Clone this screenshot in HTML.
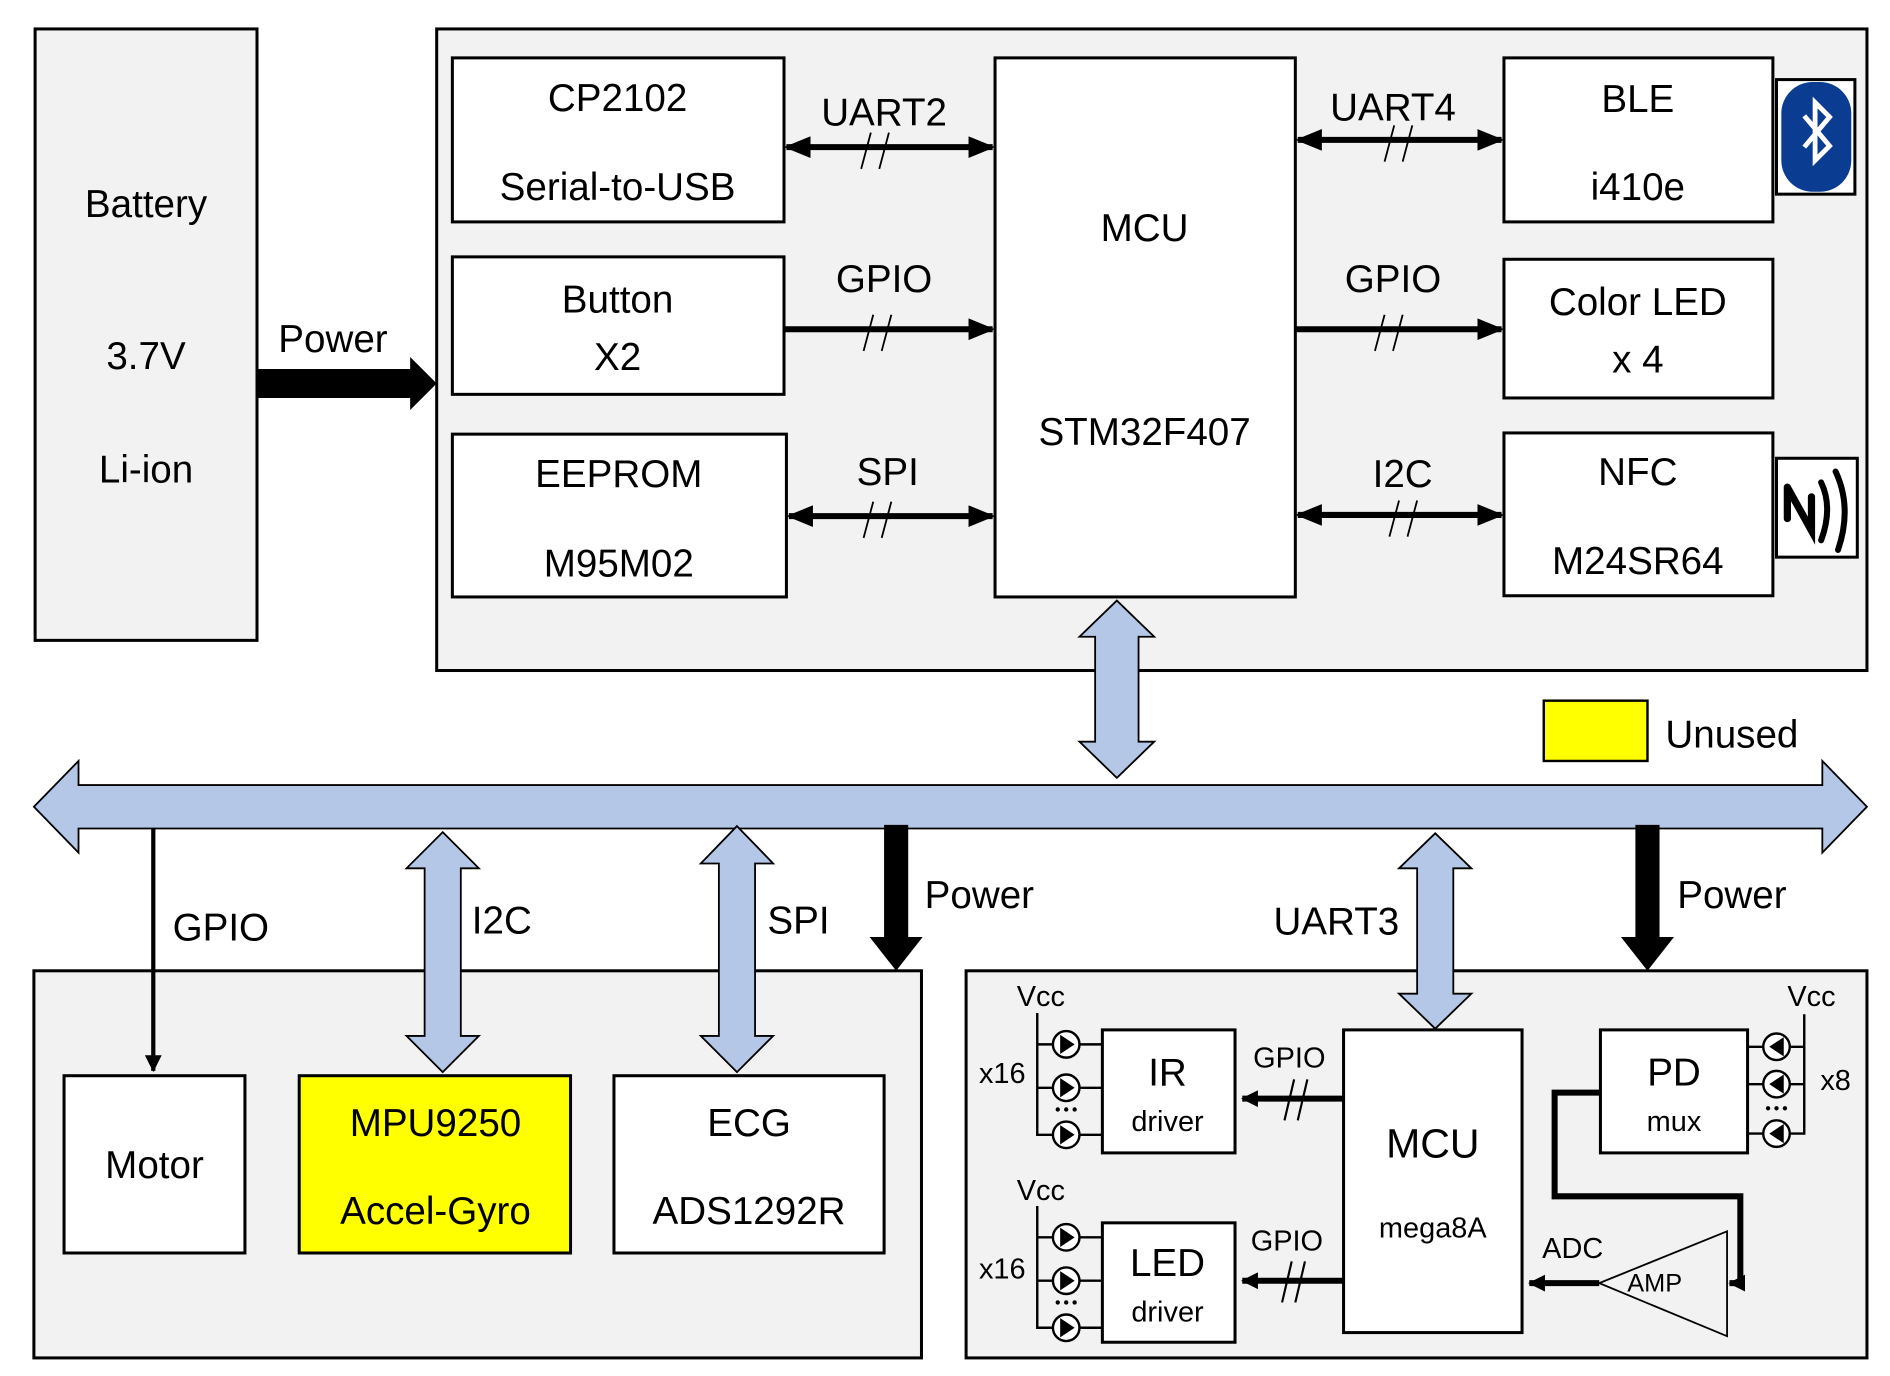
<!DOCTYPE html>
<html><head><meta charset="utf-8"><style>
html,body{margin:0;padding:0;background:#fff;}
svg{display:block;}
text{font-family:"Liberation Sans",sans-serif;fill:#000;text-anchor:middle;}
</style></head><body>
<svg width="1890" height="1376" viewBox="0 0 1567 1141" xmlns="http://www.w3.org/2000/svg">
<defs>
<marker id="ah" markerUnits="userSpaceOnUse" markerWidth="22" markerHeight="18" refX="20" refY="9" orient="auto-start-reverse"><path d="M0,0 L22,9 L0,18 Z" fill="#000"/></marker>
<marker id="as" markerUnits="userSpaceOnUse" markerWidth="14" markerHeight="14" refX="13" refY="7" orient="auto-start-reverse"><path d="M0,0 L14,7 L0,14 Z" fill="#000"/></marker>
</defs>

<rect x="29" y="24" width="184" height="507" fill="#f2f2f2" stroke="#000" stroke-width="2.5"/>
<text x="121" y="180" font-size="32">Battery</text>
<text x="121" y="306" font-size="32">3.7V</text>
<text x="121" y="400" font-size="32">Li-ion</text>
<polygon points="213,306 340,306 340,296 362,318 340,340 340,330 213,330" fill="#000"/>
<text x="276" y="292" font-size="32">Power</text>

<rect x="362" y="24" width="1186" height="532" fill="#f2f2f2" stroke="#000" stroke-width="2.5"/>
<g fill="#fff" stroke="#000" stroke-width="2.5">
<rect x="375" y="48" width="275" height="136"/>
<rect x="375" y="213" width="275" height="114"/>
<rect x="375" y="360" width="277" height="135"/>
<rect x="825" y="48" width="249" height="447"/>
<rect x="1247" y="48" width="223" height="136"/>
<rect x="1247" y="215" width="223" height="115"/>
<rect x="1247" y="359" width="223" height="135"/>
<rect x="1473" y="66" width="65" height="95"/>
<rect x="1473" y="380" width="67" height="82"/>
</g>
<g font-size="32">
<text x="512" y="92">CP2102</text>
<text x="512" y="166">Serial-to-USB</text>
<text x="512" y="259">Button</text>
<text x="512" y="307">X2</text>
<text x="513" y="404">EEPROM</text>
<text x="513" y="478">M95M02</text>
<text x="949" y="200">MCU</text>
<text x="949" y="369">STM32F407</text>
<text x="1358" y="93">BLE</text>
<text x="1358" y="166">i410e</text>
<text x="1358" y="261">Color LED</text>
<text x="1358" y="309">x 4</text>
<text x="1358" y="402">NFC</text>
<text x="1358" y="476">M24SR64</text>
<text x="733" y="104">UART2</text>
<text x="733" y="242">GPIO</text>
<text x="736" y="402">SPI</text>
<text x="1155" y="100">UART4</text>
<text x="1155" y="242">GPIO</text>
<text x="1163" y="404">I2C</text>
</g>
<rect x="1477" y="68" width="58" height="91" rx="26" fill="#0a3d91"/>
<path d="M1496,96 L1517,121 L1505,133 L1505,85 L1517,97 L1496,122" fill="none" stroke="#fff" stroke-width="4"/>
<path d="M1482,404 L1482,430 M1482,404 L1502,440 L1502,412" fill="none" stroke="#000" stroke-width="6" stroke-linecap="round"/>
<path d="M1510,400 Q1520,421 1510,448 M1522,391 Q1536,421 1524,456" fill="none" stroke="#000" stroke-width="5" stroke-linecap="round"/>

<g stroke="#000" stroke-width="5">
<line x1="652" y1="122" x2="823" y2="122" marker-start="url(#ah)" marker-end="url(#ah)"/>
<line x1="650" y1="273" x2="823" y2="273" marker-end="url(#ah)"/>
<line x1="654" y1="428" x2="823" y2="428" marker-start="url(#ah)" marker-end="url(#ah)"/>
<line x1="1076" y1="116" x2="1245" y2="116" marker-start="url(#ah)" marker-end="url(#ah)"/>
<line x1="1074" y1="273" x2="1245" y2="273" marker-end="url(#ah)"/>
<line x1="1076" y1="427" x2="1245" y2="427" marker-start="url(#ah)" marker-end="url(#ah)"/>
</g>
<g stroke="#000" stroke-width="1.5">
<path d="M714,140 L722,110 M729,140 L737,110"/>
<path d="M716,291 L724,261 M731,291 L739,261"/>
<path d="M716,446 L724,416 M731,446 L739,416"/>
<path d="M1148,134 L1156,104 M1163,134 L1171,104"/>
<path d="M1140,291 L1148,261 M1155,291 L1163,261"/>
<path d="M1152,445 L1160,415 M1167,445 L1175,415"/>
</g>

<rect x="1280" y="581" width="86" height="50" fill="#ff0" stroke="#000" stroke-width="2"/>
<text x="1436" y="620" font-size="32">Unused</text>

<rect x="28" y="805" width="736" height="321" fill="#f2f2f2" stroke="#000" stroke-width="2.5"/>
<rect x="801" y="805" width="747" height="321" fill="#f2f2f2" stroke="#000" stroke-width="2.5"/>

<polygon points="28,669 65,631 65,651 1511,651 1511,631 1548,669 1511,707 1511,687 65,687 65,707" fill="#b4c7e7" stroke="#000" stroke-width="1.5"/>
<polygon points="926,498 957,528 944,528 944,615 957,615 926,645 895,615 908,615 908,528 895,528" fill="#b4c7e7" stroke="#000" stroke-width="1.5"/>
<polygon points="367,690 397,720 382,720 382,859 397,859 367,889 337,859 352,859 352,720 337,720" fill="#b4c7e7" stroke="#000" stroke-width="1.5"/>
<polygon points="611,685 641,716 626,716 626,859 641,859 611,889 581,859 596,859 596,716 581,716" fill="#b4c7e7" stroke="#000" stroke-width="1.5"/>
<polygon points="1190,691 1220,720 1205,720 1205,824 1220,824 1190,853 1160,824 1175,824 1175,720 1160,720" fill="#b4c7e7" stroke="#000" stroke-width="1.5"/>
<polygon points="733,684 753,684 753,777 765,777 743,805 721,777 733,777" fill="#000"/>
<polygon points="1356,684 1376,684 1376,777 1388,777 1366,805 1344,777 1356,777" fill="#000"/>
<line x1="127" y1="687" x2="127" y2="888" stroke="#000" stroke-width="3.5" marker-end="url(#as)"/>

<g font-size="32">
<text x="183" y="780">GPIO</text>
<text x="416" y="774">I2C</text>
<text x="662" y="774">SPI</text>
<text x="812" y="753">Power</text>
<text x="1108" y="775">UART3</text>
<text x="1436" y="753">Power</text>
</g>

<rect x="53" y="892" width="150" height="147" fill="#fff" stroke="#000" stroke-width="2.5"/>
<rect x="248" y="892" width="225" height="147" fill="#ff0" stroke="#000" stroke-width="2.5"/>
<rect x="509" y="892" width="224" height="147" fill="#fff" stroke="#000" stroke-width="2.5"/>
<g font-size="32">
<text x="128" y="977">Motor</text>
<text x="361" y="942">MPU9250</text>
<text x="361" y="1015">Accel-Gyro</text>
<text x="621" y="942">ECG</text>
<text x="621" y="1015">ADS1292R</text>
</g>

<g fill="#fff" stroke="#000" stroke-width="2.5">
<rect x="1114" y="854" width="148" height="251"/>
<rect x="914" y="854" width="110" height="102"/>
<rect x="914" y="1014" width="110" height="99"/>
<rect x="1327" y="854" width="122" height="102"/>
</g>
<polygon points="1326,1064 1432,1021 1432,1108" fill="none" stroke="#000" stroke-width="1.5"/>
<text x="1188" y="960" font-size="34">MCU</text>
<text x="1188" y="1026" font-size="24">mega8A</text>
<text x="968" y="900" font-size="32">IR</text>
<text x="968" y="938" font-size="24">driver</text>
<text x="968" y="1058" font-size="32">LED</text>
<text x="968" y="1096" font-size="24">driver</text>
<text x="1388" y="900" font-size="32">PD</text>
<text x="1388" y="938" font-size="24">mux</text>
<text x="1372" y="1071" font-size="21">AMP</text>
<text x="1069" y="885" font-size="24">GPIO</text>
<text x="1067" y="1037" font-size="24">GPIO</text>
<text x="1304" y="1043" font-size="24">ADC</text>
<g font-size="24">
<text x="863" y="834">Vcc</text>
<text x="863" y="995">Vcc</text>
<text x="1502" y="834">Vcc</text>
<text x="831" y="898">x16</text>
<text x="831" y="1060">x16</text>
<text x="1522" y="904">x8</text>
</g>
<g stroke="#000" stroke-width="5" fill="none">
<line x1="1114" y1="911" x2="1030" y2="911" marker-end="url(#as)"/>
<line x1="1114" y1="1062" x2="1030" y2="1062" marker-end="url(#as)"/>
<line x1="1326" y1="1064" x2="1268" y2="1064" marker-end="url(#as)"/>
<path d="M1327,906 L1289,906 L1289,992 L1443,992 L1443,1064 L1445,1064"/>
<line x1="1445" y1="1064" x2="1434" y2="1064" marker-end="url(#as)"/>
</g>
<g stroke="#000" stroke-width="1.8">
<path d="M1065,929 L1073,895 M1076,929 L1084,895"/>
<path d="M1063,1080 L1071,1046 M1074,1080 L1082,1046"/>
</g>
<g stroke="#000" stroke-width="2" fill="#fff">
<path d="M860,840 L860,941 L914,941 M860,866 L914,866 M860,902 L914,902" fill="none"/>
<path d="M860,1000 L860,1101 L914,1101 M860,1026 L914,1026 M860,1062 L914,1062" fill="none"/>
<circle cx="884" cy="866" r="11"/><circle cx="884" cy="902" r="11"/><circle cx="884" cy="941" r="11"/>
<circle cx="884" cy="1026" r="11"/><circle cx="884" cy="1062" r="11"/><circle cx="884" cy="1101" r="11"/>
<path d="M1496,841 L1496,940 L1449,940 M1496,868 L1449,868 M1496,899 L1449,899" fill="none"/>
<circle cx="1473" cy="868" r="11"/><circle cx="1473" cy="899" r="11"/><circle cx="1473" cy="940" r="11"/>
</g>
<g fill="#000">
<path d="M879,858 L891,866 L879,874Z M879,894 L891,902 L879,910Z M879,933 L891,941 L879,949Z"/>
<path d="M879,1018 L891,1026 L879,1034Z M879,1054 L891,1062 L879,1070Z M879,1093 L891,1101 L879,1109Z"/>
<path d="M1479,860 L1467,868 L1479,876Z M1479,891 L1467,899 L1479,907Z M1479,932 L1467,940 L1479,948Z"/>
<circle cx="877" cy="920" r="1.8"/><circle cx="884" cy="920" r="1.8"/><circle cx="891" cy="920" r="1.8"/>
<circle cx="877" cy="1080" r="1.8"/><circle cx="884" cy="1080" r="1.8"/><circle cx="891" cy="1080" r="1.8"/>
<circle cx="1466" cy="919" r="1.8"/><circle cx="1473" cy="919" r="1.8"/><circle cx="1480" cy="919" r="1.8"/>
</g>
</svg>
</body></html>
